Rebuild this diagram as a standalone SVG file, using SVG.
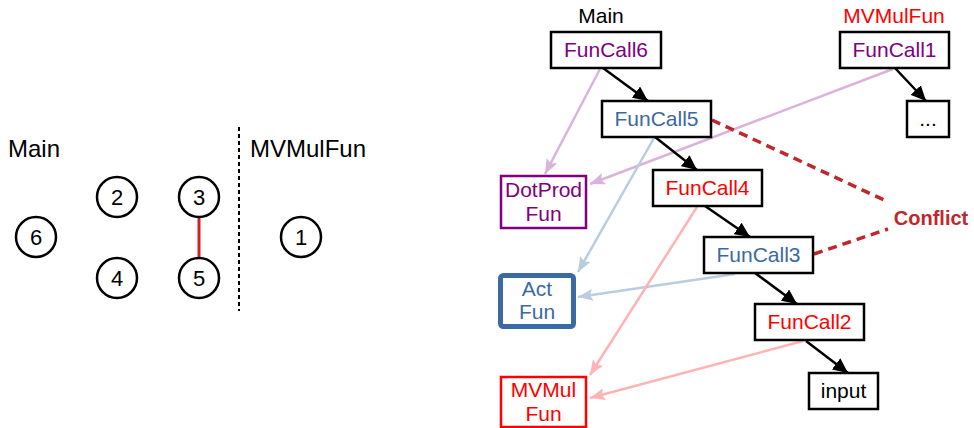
<svg xmlns="http://www.w3.org/2000/svg" width="974" height="428" viewBox="0 0 974 428">
  <style>
    text { font-family: "Liberation Sans", Arial, sans-serif; }
    .lbl { font-size: 24px; fill: #000; }
    .num { font-size: 22px; fill: #000; text-anchor: middle; }
    .circ { fill: #fff; stroke: #000; stroke-width: 2.5; }
    .box { fill: #fff; stroke: #000; stroke-width: 2.5; }
    .t { font-size: 21px; text-anchor: middle; }
    .purple { fill: #800080; }
    .blue { fill: #3b69a4; }
    .red { fill: #ff0000; }
    .blk { fill: #000; }
    .call { stroke: #000; stroke-width: 2.5; fill: none; marker-end: url(#ahBlack); }
    .usePurple { stroke: #dab3da; stroke-width: 2.5; fill: none; marker-end: url(#ahPurple); }
    .useBlue { stroke: #bacde0; stroke-width: 2.5; fill: none; marker-end: url(#ahBlue); }
    .useRed { stroke: #ffb3b3; stroke-width: 2.5; fill: none; marker-end: url(#ahRed); }
    .conflict { stroke: #c0272d; stroke-width: 3.5; stroke-dasharray: 9 6; fill: none; }
  </style>
  <defs>
    <marker id="ahBlack" markerUnits="userSpaceOnUse" markerWidth="16" markerHeight="14" refX="15" refY="7" orient="auto">
      <path d="M0,0 L15,7 L0,14 z" fill="#000"/>
    </marker>
    <marker id="ahPurple" markerUnits="userSpaceOnUse" markerWidth="16" markerHeight="12" refX="15" refY="6" orient="auto">
      <path d="M0,0 L15,6 L0,12 L3,6 z" fill="#dab3da"/>
    </marker>
    <marker id="ahBlue" markerUnits="userSpaceOnUse" markerWidth="16" markerHeight="12" refX="15" refY="6" orient="auto">
      <path d="M0,0 L15,6 L0,12 L3,6 z" fill="#bacde0"/>
    </marker>
    <marker id="ahRed" markerUnits="userSpaceOnUse" markerWidth="16" markerHeight="12" refX="15" refY="6" orient="auto">
      <path d="M0,0 L15,6 L0,12 L3,6 z" fill="#ffb3b3"/>
    </marker>
  </defs>

  <!-- Left panel: thread groups -->
  <g id="left-panel">
    <text class="lbl" x="8" y="157">Main</text>
    <text class="lbl" x="250" y="157">MVMulFun</text>
    <line x1="239" y1="127" x2="239" y2="311" stroke="#000" stroke-width="2" stroke-dasharray="4 3"/>
    <line x1="199" y1="217" x2="199" y2="258" stroke="#d0202a" stroke-width="3"/>
    <g id="c6"><circle class="circ" cx="36" cy="237" r="20"/><text class="num" x="36" y="245">6</text></g>
    <g id="c2"><circle class="circ" cx="117" cy="197" r="20"/><text class="num" x="117" y="205">2</text></g>
    <g id="c3"><circle class="circ" cx="199" cy="197" r="20"/><text class="num" x="199" y="205">3</text></g>
    <g id="c4"><circle class="circ" cx="117" cy="278" r="20"/><text class="num" x="117" y="286">4</text></g>
    <g id="c5"><circle class="circ" cx="199" cy="278" r="20"/><text class="num" x="199" y="286">5</text></g>
    <g id="c1"><circle class="circ" cx="301" cy="237" r="20"/><text class="num" x="301" y="245">1</text></g>
  </g>

  <!-- Right panel: call graph -->
  <g id="connectors">
    <!-- uses of shared functions -->
    <line class="usePurple" x1="600" y1="69" x2="545" y2="174"/>
    <line class="usePurple" x1="893" y1="69" x2="590" y2="184"/>
    <line class="useBlue" x1="654" y1="138" x2="578" y2="272"/>
    <line class="useBlue" x1="735" y1="274" x2="578" y2="297"/>
    <line class="useRed" x1="697" y1="207" x2="590" y2="375"/>
    <line class="useRed" x1="803" y1="341" x2="590" y2="398"/>
    <!-- call chain -->
    <line class="call" x1="603" y1="68" x2="648" y2="101"/>
    <line class="call" x1="655" y1="137" x2="697" y2="170"/>
    <line class="call" x1="705" y1="206" x2="750" y2="237"/>
    <line class="call" x1="755" y1="273" x2="797" y2="304"/>
    <line class="call" x1="806" y1="341" x2="848" y2="373"/>
    <line class="call" x1="895" y1="68" x2="926" y2="101"/>
    <!-- conflict markers -->
    <line class="conflict" x1="712" y1="120" x2="884" y2="200"/>
    <line class="conflict" x1="814" y1="254" x2="888" y2="229"/>
  </g>

  <text class="t blk" x="601" y="23">Main</text>
  <text class="t red" x="894" y="23">MVMulFun</text>
  <text x="931" y="225" font-size="20" font-weight="bold" fill="#c0272d" text-anchor="middle">Conflict</text>

  <g id="FunCall6"><rect class="box" x="551" y="32" width="110" height="36"/><text class="t purple" x="606" y="57">FunCall6</text></g>
  <g id="FunCall5"><rect class="box" x="602" y="101" width="109" height="36"/><text class="t blue" x="656.5" y="126">FunCall5</text></g>
  <g id="FunCall4"><rect class="box" x="653" y="170" width="109" height="36"/><text class="t red" x="707.5" y="195">FunCall4</text></g>
  <g id="FunCall3"><rect class="box" x="704" y="237" width="109" height="36"/><text class="t blue" x="758.5" y="262">FunCall3</text></g>
  <g id="FunCall2"><rect class="box" x="755" y="304" width="109" height="36"/><text class="t red" x="809.5" y="329">FunCall2</text></g>
  <g id="input"><rect class="box" x="809" y="373" width="69" height="36"/><text class="t blk" x="843.5" y="398">input</text></g>
  <g id="FunCall1"><rect class="box" x="840" y="32" width="109" height="36"/><text class="t purple" x="894.5" y="57">FunCall1</text></g>
  <g id="ellipsis"><rect class="box" x="907" y="101" width="42" height="36"/><text class="t blk" x="928" y="126">...</text></g>

  <g id="DotProdFun">
    <rect x="501" y="176" width="85" height="52" fill="#fff" stroke="#800080" stroke-width="2.5"/>
    <text class="t purple" x="543.5" y="197">DotProd</text>
    <text class="t purple" x="543.5" y="221">Fun</text>
  </g>
  <g id="ActFun">
    <rect x="500.5" y="275.5" width="73" height="51" rx="3" fill="#fff" stroke="#3b69a4" stroke-width="5"/>
    <text class="t blue" x="537" y="296">Act</text>
    <text class="t blue" x="537" y="319">Fun</text>
  </g>
  <g id="MVMulFun">
    <rect x="501" y="377" width="85" height="50" fill="#fff" stroke="#ff0000" stroke-width="2.5"/>
    <text class="t red" x="543.5" y="397">MVMul</text>
    <text class="t red" x="543.5" y="421">Fun</text>
  </g>
</svg>
